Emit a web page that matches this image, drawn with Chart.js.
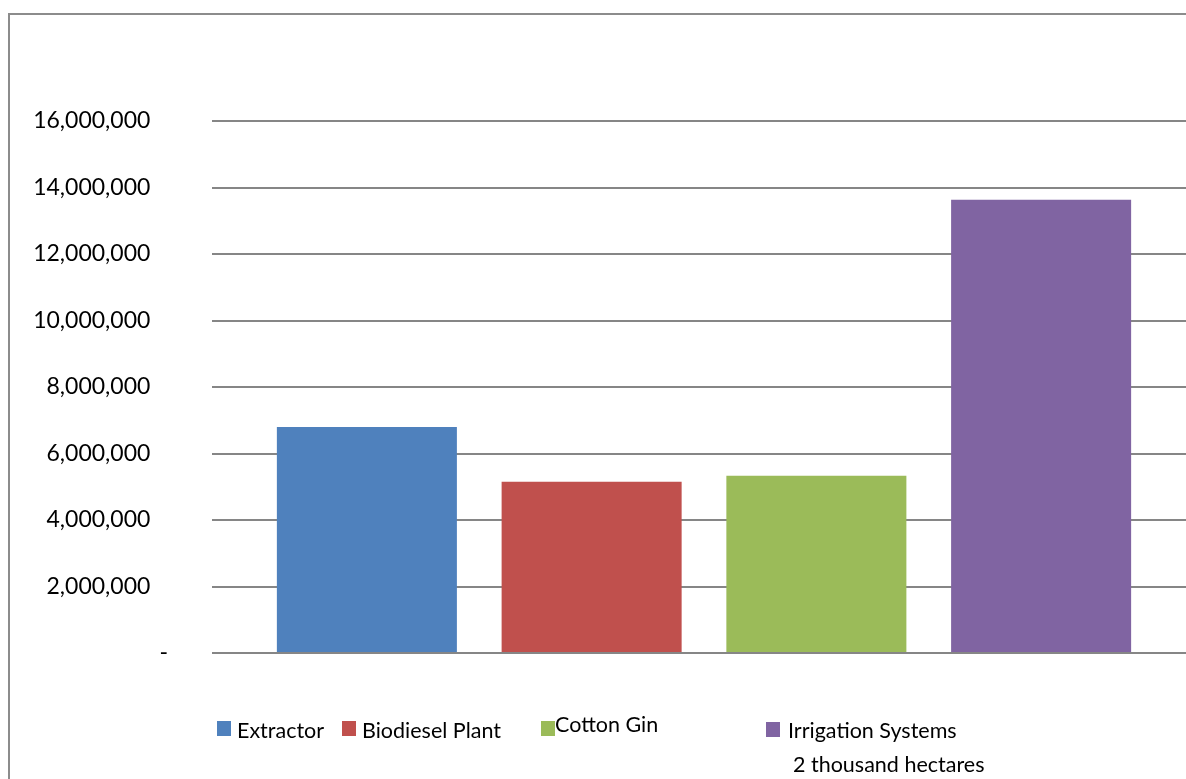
<!DOCTYPE html>
<html>
<head>
<meta charset="utf-8">
<script src="https://cdn.jsdelivr.net/npm/chart.js@4/dist/chart.umd.min.js"></script>
<style>
  html, body { margin: 0; padding: 0; background: #fff; overflow: hidden; }
  #stage { position: relative; width: 1186px; height: 779px; overflow: hidden; background: #fff; }
  #frame { position: absolute; left: 8px; top: 13px; width: 1300px; height: 900px; border: 2px solid #8c8c8c; box-sizing: border-box; }
  #wrap { position: absolute; left: 0; top: 0; width: 1220px; height: 779px; }
  .leg { position: absolute; font-family: Lato, "Open Sans", sans-serif; font-size: 21.5px; color: #000; white-space: nowrap; line-height: 1; }
  .sw { position: absolute; width: 14px; height: 15px; }
</style>
</head>
<body>
<div id="stage">
  <div id="frame"></div>
  <div id="wrap"><canvas id="c"></canvas></div>
  <div id="legend"></div>
</div>
<script>
const categories = [''];
const seriesNames = ['Extractor', 'Biodiesel Plant', 'Cotton Gin', ['Irrigation Systems', '2 thousand hectares']];
const extractorValues = [6800000];
const biodieselValues = [5150000];
const cottonGinValues = [5330000];
const irrigationValues = [13630000];
const seriesColors = ['#4F81BD', '#C0504D', '#9BBB59', '#8064A2'];
const yTicks = [0, 2000000, 4000000, 6000000, 8000000, 10000000, 12000000, 14000000, 16000000];

const allValues = [extractorValues, biodieselValues, cottonGinValues, irrigationValues];

const datasets = allValues.map((vals, i) => ({
  label: Array.isArray(seriesNames[i]) ? seriesNames[i].join(' ') : seriesNames[i],
  data: vals,
  backgroundColor: seriesColors[i],
  borderWidth: 0,
  categoryPercentage: 0.9136,
  barPercentage: 0.801
}));

function fmt(v) {
  if (v === 0) return '-';
  return v.toLocaleString('en-US') + '\u00a0\u00a0\u00a0';
}

new Chart(document.getElementById('c'), {
  type: 'bar',
  data: { labels: categories, datasets },
  options: {
    responsive: true,
    maintainAspectRatio: false,
    animation: false,
    layout: { padding: { top: 121, bottom: 126, right: 24, left: 0 } },
    plugins: { legend: { display: false }, tooltip: { enabled: false }, title: { display: false } },
    scales: {
      x: { display: false },
      y: {
        min: 0, max: 16000000,
        afterFit: (s) => { s.width = 212; },
        afterBuildTicks: (s) => { s.ticks = yTicks.map(v => ({ value: v })); },
        border: { display: false },
        grid: { color: '#868686', lineWidth: 2, drawTicks: false },
        ticks: {
          padding: 44,
          color: '#000',
          font: { family: 'Lato, "Open Sans", sans-serif', size: 23 },
          callback: (v) => fmt(v)
        }
      }
    }
  }
});

// HTML legend
const legendPos = [
  { sx: 217, sy: 721, tx: 237, ty: 720 },
  { sx: 342, sy: 721, tx: 362, ty: 720 },
  { sx: 541, sy: 721, tx: 555, ty: 714 },
  { sx: 766, sy: 722, tx: 788, ty: 720 }
];
const leg = document.getElementById('legend');
seriesNames.forEach((name, i) => {
  const p = legendPos[i];
  const sw = document.createElement('div');
  sw.className = 'sw';
  sw.style.left = p.sx + 'px'; sw.style.top = p.sy + 'px';
  sw.style.background = seriesColors[i];
  leg.appendChild(sw);
  const lines = Array.isArray(name) ? name : [name];
  lines.forEach((ln, j) => {
    const t = document.createElement('div');
    t.className = 'leg';
    t.textContent = ln;
    t.style.left = (p.tx + (j > 0 ? 5 : 0)) + 'px';
    t.style.top = (p.ty + j * 34) + 'px';
    leg.appendChild(t);
  });
});
</script>
</body>
</html>
